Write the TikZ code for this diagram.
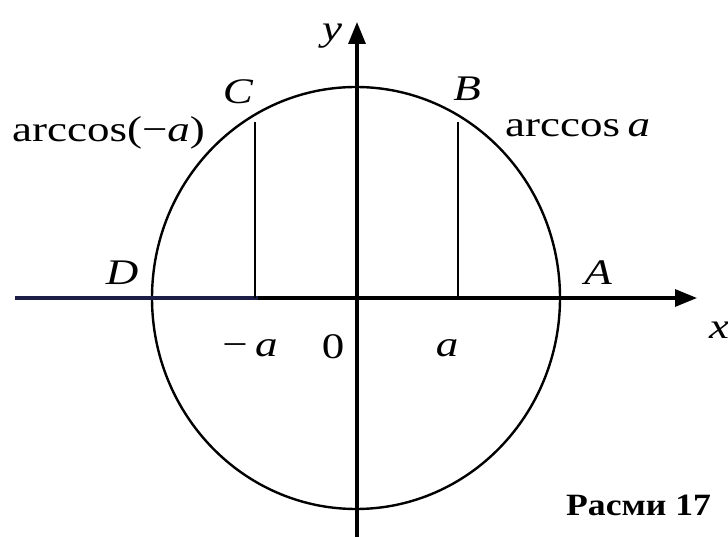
\documentclass[tikz,border=0pt]{standalone}
\usepackage{fontspec}
\usepackage{graphicx}
\setmainfont{Liberation Serif}
\usetikzlibrary{arrows.meta}
\newcommand\wtxt[1]{\scalebox{1.25}[1]{#1}}
\definecolor{navyaxis}{RGB}{28,30,72}
\tikzset{
  axisline/.style={line width=3.2pt, -{Triangle[length=22pt,width=17pt]}},
  thinline/.style={line width=2.5pt},
  circline/.style={line width=2.4pt},
  lbl/.style={inner sep=0pt, font=\fontsize{36}{40}\selectfont},
  figcap/.style={inner sep=0pt, font=\fontsize{31}{35}\selectfont\bfseries},
}
\begin{document}
\begin{tikzpicture}[x=1pt,y=-1pt]
\useasboundingbox (0,0) rectangle (728,537);
\fill[white] (0,0) rectangle (728,537);
% key points
\coordinate (O) at (357,298);
\coordinate (xl) at (15,298);
\coordinate (xr) at (697,298);
\coordinate (yb) at (357,545);
\coordinate (yt) at (357,22);
\coordinate (Ma) at (255,298);
\coordinate (Pa) at (458,298);
\coordinate (Ct) at (255,122);
\coordinate (Bt) at (458,122);
\coordinate (Mend) at (258,298);
% circle
\draw[circline] (356,298) ellipse [x radius=204pt, y radius=211pt];
% axes
\draw[axisline] (xl) -- (xr);
\draw[axisline] (yb) -- (yt);
\draw[line width=4.6pt, navyaxis] (xl) -- (Mend);
% verticals
\draw[thinline] (Ma) -- (Ct);
\draw[thinline] (Pa) -- (Bt);
% labels
\node[lbl] (ylab) at (332,36) {\wtxt{\itshape y}};
\node[lbl] (xlab) at (719,330) {\wtxt{\itshape x}};
\node[lbl] (Alab) at (598,273) {\wtxt{\itshape A}};
\node[lbl] (Blab) at (467,89) {\wtxt{\itshape B}};
\node[lbl] (Clab) at (238,92) {\wtxt{\itshape C}};
\node[lbl] (Dlab) at (122,273) {\wtxt{\itshape D}};
\node[lbl, anchor=base west] (arcB) at (505,137) {\wtxt{arccos\,\textit{a}}};
\node[lbl, anchor=base west] (arcC) at (12,142) {\wtxt{arccos(−\textit{a})}};
\node[lbl] (mal) at (250,348) {\wtxt{−\,\textit{a}}};
\node[lbl] (zl) at (333,347) {\wtxt{0}};
\node[lbl] (pal) at (447,348) {\wtxt{\itshape a}};
\node[figcap, anchor=base west] (fig) at (566,515) {\scalebox{1.15}[1]{Расми 17}};
\end{tikzpicture}
\end{document}
